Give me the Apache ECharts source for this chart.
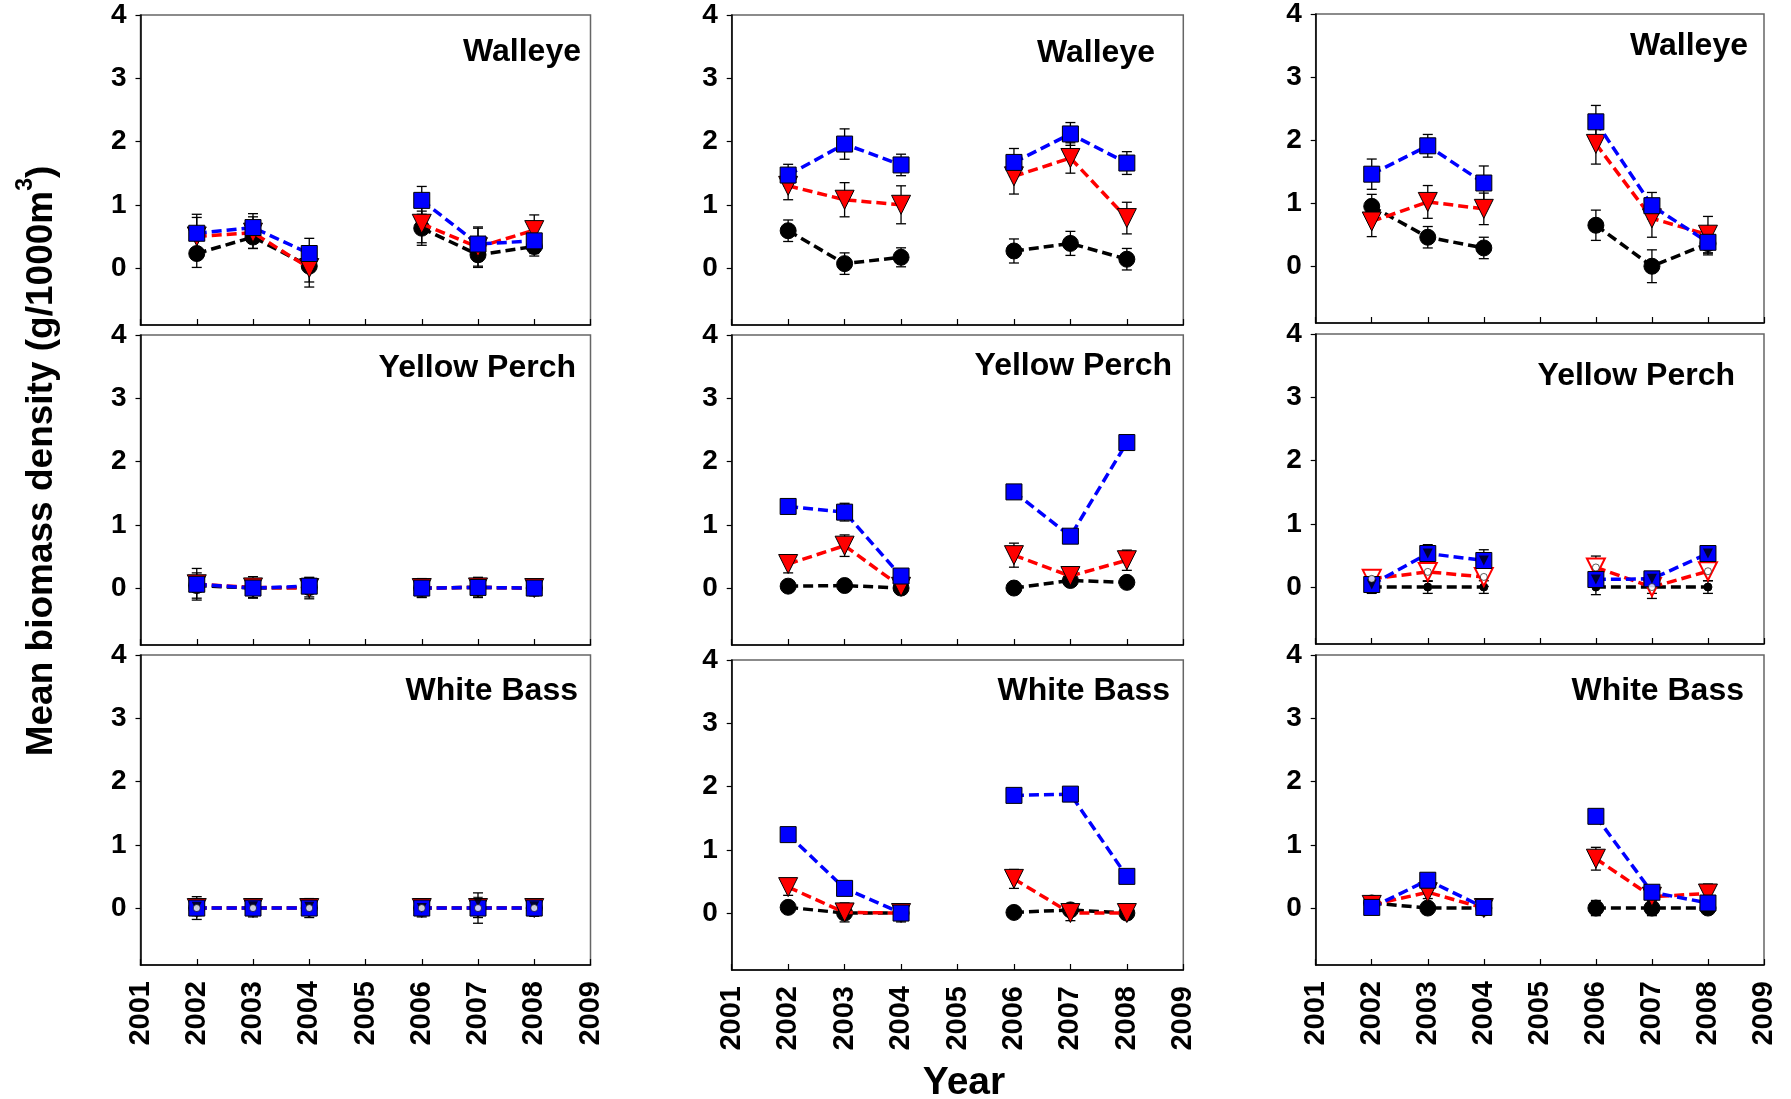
<!DOCTYPE html>
<html>
<head>
<meta charset="utf-8">
<script src="https://cdn.jsdelivr.net/npm/echarts@6/dist/echarts.min.js"></script>
<style>
html,body{margin:0;padding:0;background:#fff;}
#chart{width:1791px;height:1099px;}
</style>
</head>
<body>
<div id="chart"></div>
<script>
// ---------- data ----------
const years = [2002, 2003, 2004, 2006, 2007, 2008];
const xMinYear = 2001, xMaxYear = 2009;
const yTickValues = [0, 1, 2, 3, 4];
const speciesNames = ['Walleye', 'Yellow Perch', 'White Bass'];
const yTitle = 'Mean biomass density (g/1000m';
const xTitle = 'Year';

// Column A (left)
const A_W_black = [0.23, 0.49, 0.03, 0.63, 0.21, 0.34];
const A_W_blackSE = [0.22, 0.18, 0.25, 0.27, 0.20, 0.15];
const A_W_red = [0.50, 0.56, 0.00, 0.70, 0.33, 0.60];
const A_W_redSE = [0.30, 0.25, 0.30, 0.30, 0.30, 0.24];
const A_W_blue = [0.55, 0.64, 0.23, 1.07, 0.38, 0.43];
const A_W_blueSE = [0.30, 0.22, 0.24, 0.22, 0.27, 0.20];

const A_Y_black = [0.04, 0.00, 0.01, 0.00, 0.01, 0.00];
const A_Y_blackSE = [0.20, 0.15, 0.15, 0.15, 0.15, 0.12];
const A_Y_red = [0.06, 0.01, 0.00, 0.00, 0.01, 0.00];
const A_Y_redSE = [0.25, 0.17, 0.17, 0.14, 0.16, 0.12];
const A_Y_blue = [0.06, 0.00, 0.03, 0.00, 0.01, 0.00];
const A_Y_blueSE = [0.12, 0.10, 0.10, 0.10, 0.10, 0.10];

const A_B_black = [0.00, 0.00, 0.00, 0.00, 0.00, 0.00];
const A_B_blackSE = [0.18, 0.14, 0.15, 0.14, 0.15, 0.13];
const A_B_red = [0.00, 0.00, 0.00, 0.00, 0.00, 0.00];
const A_B_redSE = [0.12, 0.10, 0.10, 0.10, 0.24, 0.12];
const A_B_blue = [0.00, 0.00, 0.00, 0.00, 0.00, 0.00];
const A_B_blueSE = [0.10, 0.10, 0.10, 0.10, 0.10, 0.10];
const A_B_innerTri = [0.02, 0.03, 0.02, 0.00, 0.10, 0.03];
const A_B_innerCirc = [0.00, 0.00, 0.00, 0.00, 0.00, 0.00];

// Column B (middle)
const B_W_black = [0.59, 0.07, 0.17, 0.27, 0.39, 0.14];
const B_W_blackSE = [0.17, 0.17, 0.15, 0.19, 0.19, 0.17];
const B_W_red = [1.30, 1.08, 1.00, 1.45, 1.74, 0.79];
const B_W_redSE = [0.22, 0.27, 0.30, 0.28, 0.24, 0.25];
const B_W_blue = [1.47, 1.96, 1.63, 1.67, 2.12, 1.66];
const B_W_blueSE = [0.17, 0.24, 0.17, 0.22, 0.18, 0.18];

const B_Y_black = [0.03, 0.04, 0.00, 0.00, 0.12, 0.09];
const B_Y_blackSE = [0.05, 0.05, 0.06, 0.07, 0.06, 0.05];
const B_Y_red = [0.38, 0.67, 0.02, 0.52, 0.19, 0.44];
const B_Y_redSE = [0.14, 0.17, 0.12, 0.19, 0.14, 0.16];
const B_Y_blue = [1.29, 1.20, 0.19, 1.52, 0.82, 2.30];
const B_Y_blueSE = [0.04, 0.14, 0.05, 0.07, 0.06, 0.05];

const B_B_black = [0.09, 0.00, 0.00, 0.01, 0.05, 0.00];
const B_B_blackSE = [0.04, 0.05, 0.05, 0.04, 0.05, 0.05];
const B_B_red = [0.41, 0.01, 0.00, 0.54, 0.00, 0.00];
const B_B_redSE = [0.13, 0.15, 0.08, 0.15, 0.12, 0.10];
const B_B_blue = [1.24, 0.39, 0.00, 1.86, 1.88, 0.58];
const B_B_blueSE = [0.05, 0.10, 0.14, 0.05, 0.05, 0.04];

// Column C (right)
const C_W_black = [0.95, 0.46, 0.29, 0.65, 0.00, 0.36];
const C_W_blackSE = [0.19, 0.17, 0.17, 0.24, 0.26, 0.15];
const C_W_red = [0.71, 1.02, 0.91, 1.94, 0.76, 0.50];
const C_W_redSE = [0.24, 0.26, 0.25, 0.32, 0.30, 0.29];
const C_W_blue = [1.46, 1.91, 1.32, 2.29, 0.96, 0.38];
const C_W_blueSE = [0.24, 0.18, 0.27, 0.26, 0.21, 0.20];

const C_Y_black = [0.00, 0.00, 0.00, 0.00, 0.00, 0.00];
const C_Y_blackSE = [0.10, 0.10, 0.10, 0.12, 0.10, 0.10];
const C_Y_red = [0.13, 0.24, 0.16, 0.31, 0.00, 0.25];
const C_Y_redSE = [0.14, 0.15, 0.15, 0.18, 0.18, 0.15];
const C_Y_blue = [0.04, 0.53, 0.42, 0.12, 0.13, 0.53];
const C_Y_blueSE = [0.10, 0.14, 0.17, 0.10, 0.10, 0.10];
const C_Y_innerTri = [0.04, 0.53, 0.42, 0.12, 0.13, 0.53];
const C_Y_innerCirc = [0.13, 0.24, 0.16, 0.31, 0.00, 0.25];

const C_B_black = [0.08, 0.00, 0.00, 0.00, 0.00, 0.00];
const C_B_blackSE = [0.10, 0.06, 0.10, 0.12, 0.12, 0.08];
const C_B_red = [0.05, 0.25, 0.00, 0.78, 0.18, 0.23];
const C_B_redSE = [0.06, 0.10, 0.08, 0.18, 0.10, 0.15];
const C_B_blue = [0.01, 0.44, 0.01, 1.45, 0.25, 0.08];
const C_B_blueSE = [0.08, 0.06, 0.08, 0.11, 0.06, 0.06];

// ---------- layout ----------
const FONT = '"Liberation Sans", Arial, Helvetica, sans-serif';
const colLeft = [140.5, 731.7, 1315.7];
const colWidth = [450, 451.6, 448.3];
const rowTop = [[15, 335, 655], [15, 335, 660], [13, 334, 655]];
const panelH = 310;
const labelPos = [
  [[581, 52], [576, 368.5], [578, 691.5]],
  [[1155, 53.5], [1172, 366.5], [1170, 691.5]],
  [[1748, 46.5], [1735, 376], [1744, 691.5]]
];

const panels = [
  {c:0, r:0, k:[A_W_black, A_W_blackSE, A_W_red, A_W_redSE, A_W_blue, A_W_blueSE]},
  {c:0, r:1, k:[A_Y_black, A_Y_blackSE, A_Y_red, A_Y_redSE, A_Y_blue, A_Y_blueSE]},
  {c:0, r:2, k:[A_B_black, A_B_blackSE, A_B_red, A_B_redSE, A_B_blue, A_B_blueSE], innerTri:A_B_innerTri, innerCirc:A_B_innerCirc},
  {c:1, r:0, k:[B_W_black, B_W_blackSE, B_W_red, B_W_redSE, B_W_blue, B_W_blueSE]},
  {c:1, r:1, k:[B_Y_black, B_Y_blackSE, B_Y_red, B_Y_redSE, B_Y_blue, B_Y_blueSE]},
  {c:1, r:2, k:[B_B_black, B_B_blackSE, B_B_red, B_B_redSE, B_B_blue, B_B_blueSE]},
  {c:2, r:0, k:[C_W_black, C_W_blackSE, C_W_red, C_W_redSE, C_W_blue, C_W_blueSE]},
  {c:2, r:1, k:[C_Y_black, C_Y_blackSE, C_Y_red, C_Y_redSE, C_Y_blue, C_Y_blueSE], innerTri:C_Y_innerTri, innerCirc:C_Y_innerCirc, smallBlack:true, hollowRed:true},
  {c:2, r:2, k:[C_B_black, C_B_blackSE, C_B_red, C_B_redSE, C_B_blue, C_B_blueSE]}
];

function lineData(vals) {
  const out = [];
  years.forEach((y, i) => {
    if (i === 3) out.push([2005, '-']);
    out.push([y, vals[i]]);
  });
  return out;
}

function errSeries(idx, vals, se, z) {
  return {
    type: 'custom', xAxisIndex: idx, yAxisIndex: idx, z: z, silent: true,
    encode: {x: 0, y: 1},
    data: years.map((y, i) => [y, vals[i], se[i]]),
    renderItem: function (params, api) {
      const x = api.value(0), v = api.value(1), e = api.value(2);
      const t = api.coord([x, v + e]);
      const b = api.coord([x, v - e]);
      const w = 5;
      const st = {stroke: '#000', lineWidth: 1.3};
      return {type: 'group', children: [
        {type: 'line', shape: {x1: t[0], y1: t[1], x2: b[0], y2: b[1]}, style: st},
        {type: 'line', shape: {x1: t[0] - w, y1: t[1], x2: t[0] + w, y2: t[1]}, style: st},
        {type: 'line', shape: {x1: b[0] - w, y1: b[1], x2: b[0] + w, y2: b[1]}, style: st}
      ]};
    }
  };
}

const grids = [], xAxes = [], yAxes = [], series = [], graphics = [];
panels.forEach((p, idx) => {
  grids.push({
    left: colLeft[p.c], top: rowTop[p.c][p.r], width: colWidth[p.c], height: panelH,
    show: true, borderColor: '#666', borderWidth: 1.5, backgroundColor: 'transparent'
  });
  xAxes.push({
    type: 'value', gridIndex: idx, min: xMinYear, max: xMaxYear, interval: 1,
    axisLine: {show: true, onZero: false, lineStyle: {color: '#000', width: 1.5}},
    axisTick: {show: true, inside: true, length: 6, lineStyle: {color: '#000', width: 1.2}},
    splitLine: {show: false},
    axisLabel: {
      show: p.r === 2, rotate: 90, margin: 16, color: '#000',
      fontFamily: FONT, fontWeight: 'bold', fontSize: 29,
      formatter: v => String(v)
    }
  });
  yAxes.push({
    type: 'value', gridIndex: idx, min: -0.9, max: 4,
    axisLine: {show: true, onZero: false, lineStyle: {color: '#000', width: 1.5}},
    axisTick: {show: true, inside: false, length: 5, customValues: yTickValues, lineStyle: {color: '#000', width: 1.2}},
    splitLine: {show: false},
    axisLabel: {
      show: true, margin: 14, color: '#000', customValues: yTickValues,
      fontFamily: FONT, fontWeight: 'bold', fontSize: 28
    }
  });
  const [bk, bkSE, rd, rdSE, bl, blSE] = p.k;
  series.push(errSeries(idx, bk, bkSE, 2));
  series.push(errSeries(idx, rd, rdSE, 2));
  series.push(errSeries(idx, bl, blSE, 2));
  const lineBase = (vals, color, symbol, size, fill, rot, z, bw, bc) => ({
    type: 'line', xAxisIndex: idx, yAxisIndex: idx, z: z,
    data: lineData(vals), connectNulls: false, animation: false,
    symbol: symbol, symbolSize: size, symbolRotate: rot, showAllSymbol: true,
    lineStyle: {color: color, width: 3.5, type: [10, 5]},
    itemStyle: {color: fill, borderColor: bc, borderWidth: bw, opacity: 1}
  });
  series.push(lineBase(bk, '#000', 'circle', p.smallBlack ? 8 : 16, '#000', 0, 3, 1, '#000'));
  if (p.hollowRed) {
    series.push(lineBase(rd, '#ff0000', 'triangle', 18, '#ffffff', 180, 4, 2, '#ff0000'));
  } else {
    series.push(lineBase(rd, '#ff0000', 'triangle', 19, '#ff0000', 180, 4, 1, '#000'));
  }
  series.push(lineBase(bl, '#0000ff', 'rect', 16, '#0000ff', 0, 5, 1, '#000'));
  if (p.innerTri) {
    series.push({
      type: 'scatter', xAxisIndex: idx, yAxisIndex: idx, z: 6, animation: false,
      data: years.map((y, i) => [y, p.innerTri[i]]),
      symbol: 'triangle', symbolRotate: 180, symbolSize: 10,
      itemStyle: {color: '#000'}
    });
  }
  if (p.innerCirc) {
    series.push({
      type: 'scatter', xAxisIndex: idx, yAxisIndex: idx, z: 7, animation: false,
      data: years.map((y, i) => [y, p.innerCirc[i]]),
      symbol: 'circle', symbolSize: 7,
      itemStyle: {color: '#fff', borderColor: '#000', borderWidth: 0.8}
    });
  }
  const lp = labelPos[p.c][p.r];
  graphics.push({
    type: 'text', x: lp[0], y: lp[1], z: 20,
    style: {text: speciesNames[p.r], fill: '#000', font: 'bold 32px ' + FONT, align: 'right', verticalAlign: 'middle'}
  });
});

graphics.push({
  type: 'text', x: 37, y: 461, rotation: Math.PI / 2, z: 20,
  style: {
    text: '{a|' + yTitle + '}{s|3}{a|)}',
    align: 'center', verticalAlign: 'middle',
    rich: {
      a: {fontFamily: FONT, fontWeight: 'bold', fontSize: 37, fill: '#000', lineHeight: 46, verticalAlign: 'bottom'},
      s: {fontFamily: FONT, fontWeight: 'bold', fontSize: 23, fill: '#000', lineHeight: 46, verticalAlign: 'top'}
    }
  }
});
graphics.push({
  type: 'text', x: 964, y: 1083, z: 20,
  style: {text: xTitle, fill: '#000', font: 'bold 39px ' + FONT, align: 'center', verticalAlign: 'middle'}
});

const chart = echarts.init(document.getElementById('chart'), null, {renderer: 'canvas'});
chart.setOption({
  backgroundColor: '#fff',
  animation: false,
  grid: grids,
  xAxis: xAxes,
  yAxis: yAxes,
  series: series,
  graphic: graphics
});
</script>
</body>
</html>
